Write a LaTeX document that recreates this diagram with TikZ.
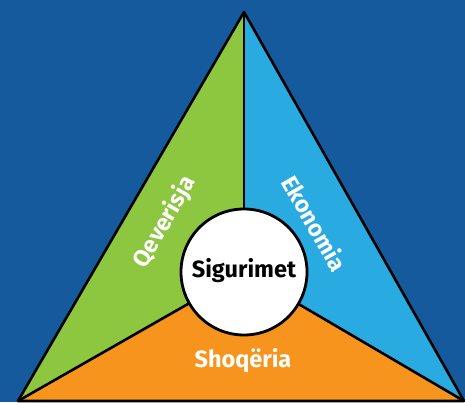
\documentclass[tikz,border=0pt]{standalone}
\usepackage{fontspec}
\setmainfont{Fira Sans}
\definecolor{bgblue}{HTML}{155A9C}
\definecolor{sgreen}{HTML}{8DC63F}
\definecolor{sblue}{HTML}{29ABE2}
\definecolor{sorange}{HTML}{F7941D}
\tikzset{
  edge/.style={draw=black, line width=2.6pt, line join=round},
  lbl/.style={text=white, font=\fontsize{23.5}{26}\selectfont\bfseries, inner sep=0pt},
}
\begin{document}
\begin{tikzpicture}[x=1pt,y=1pt]
\fill[bgblue] (0,0) rectangle (465,402);
\useasboundingbox (0,0) rectangle (465,402);
\coordinate (A) at (244,390);
\coordinate (L) at (18,1);
\coordinate (R) at (464,1);
\coordinate (C) at (244,130);
\fill[sgreen] (A) -- (L) -- (C) -- cycle;
\fill[sblue] (A) -- (R) -- (C) -- cycle;
\fill[sorange] (L) -- (R) -- (C) -- cycle;
\draw[edge] (A) -- (L) -- (R) -- cycle;
\draw[edge] (A) -- (C);
\draw[edge] (L) -- (C);
\draw[edge] (R) -- (C);
\node[circle, draw=black, line width=2.8pt, fill=white, minimum size=126pt, inner sep=0pt] (S) at (C) {};
\node[lbl, text=black] (s) at (244,131) {Sigurimet};
\node[lbl, rotate=60] (q) at (165,180) {Qeverisja};
\node[lbl, rotate=-60] (e) at (315,179) {Ekonomia};
\node[lbl] (o) at (243,41) {Shoqëria};
\end{tikzpicture}
\end{document}
